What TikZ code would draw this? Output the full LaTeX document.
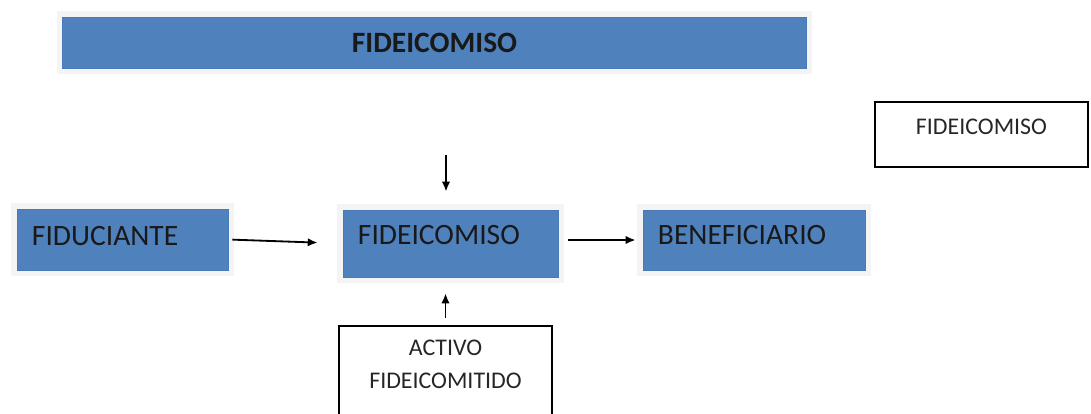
\documentclass[tikz,border=0pt]{standalone}
\usepackage{fontspec}
\setmainfont{Carlito}
\usetikzlibrary{positioning,arrows.meta}
\definecolor{boxblue}{HTML}{4F81BD}
\definecolor{boxedge}{HTML}{4A7AB5}
\definecolor{glow}{HTML}{F5F4F4}
\tikzset{
  bluebox/.style={fill=boxblue, draw=boxedge, line width=0.6pt,
    preaction={draw=glow, line width=0.3cm},
    inner xsep=0.375cm, align=left, text=black!90,
    font=\fontsize{21}{25}\selectfont},
  boxtext/.style={align=center, text=black!85, font=\fontsize{17}{23.5}\selectfont},
  whitebox/.style={boxtext, draw=black, line width=1.3pt},
}
\begin{document}
\begin{tikzpicture}[x=0.025cm, y=-0.025cm, >={Latex[length=7pt,width=6pt]}, line width=1.3pt]
  \useasboundingbox (0,0) rectangle (1091,414);
  \clip (0,0) rectangle (1091,414);

  \node (titulo) [bluebox, align=center, minimum width=18.575cm, minimum height=1.275cm,
    font=\bfseries\fontsize{21}{25}\selectfont] at (434.5,42.5) {FIDEICOMISO};

  \node (fiduciante) [bluebox, text width=4.525cm, minimum height=1.525cm, text depth=0.175cm] at (122.5,239.5) {FIDUCIANTE};
  \node (fideicomiso) [bluebox, text width=4.625cm, minimum height=1.675cm, text depth=0.425cm] at (450.5,243.5) {FIDEICOMISO};
  \node (beneficiario) [bluebox, text width=4.8cm, minimum height=1.5cm, text depth=0.25cm] at (754,240) {BENEFICIARIO};

  \node (aviso) [whitebox, minimum width=5.325cm, minimum height=1.625cm, text depth=0.375cm] at (981.5,134.5) {FIDEICOMISO};

  \node (activo) [whitebox, minimum width=5.325cm, minimum height=2.625cm, anchor=north] at (445.5,325) {};
  \node (activotxt) [boxtext, below=0.225cm of activo.north] {ACTIVO\\FIDEICOMITIDO};

  % flechas
  \coordinate (entrada) at (446,155);
  \draw [->, shorten >=0.45cm] (entrada) -- (entrada |- fideicomiso.north);
  \draw [->, shorten <=0.175cm, shorten >=0.4cm] (activo.north) -- (activo.north |- fideicomiso.south);
  \draw [->, shorten <=0.1cm, shorten >=0.625cm] (fiduciante.east) -- (fideicomiso.west);
  \draw [->, shorten <=0.25cm, shorten >=0.175cm] (fideicomiso.east |- beneficiario.west) -- (beneficiario.west);
\end{tikzpicture}
\end{document}
